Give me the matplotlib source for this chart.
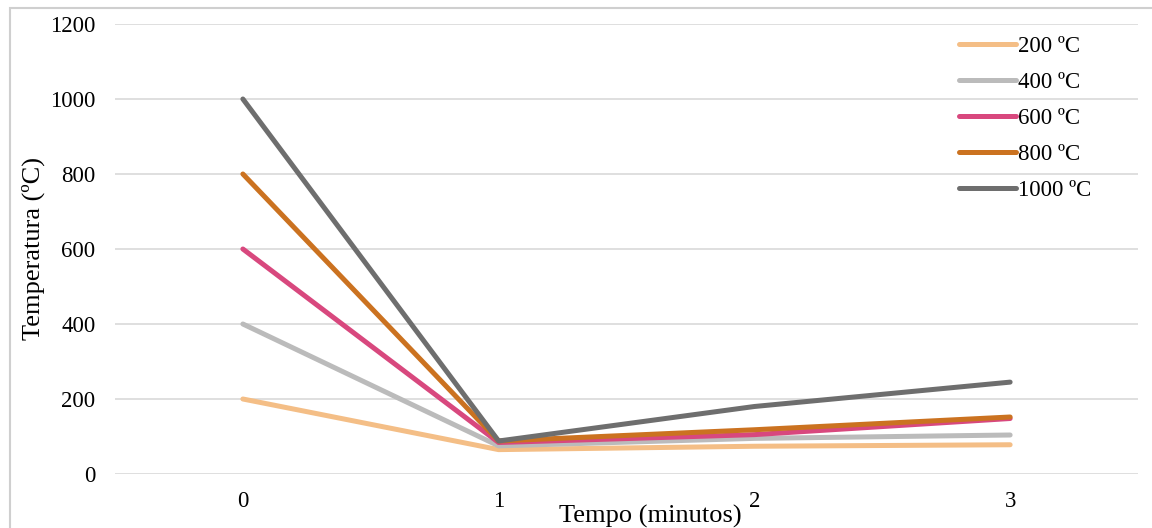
import matplotlib.pyplot as plt
from matplotlib.patches import Rectangle

plt.rcParams['font.family'] = ['Liberation Serif', 'DejaVu Serif']

tempo = [0, 1, 2, 3]
labels = ['200 ºC', '400 ºC', '600 ºC', '800 ºC', '1000 ºC']
t200 = [200, 65, 74, 78]
t400 = [400, 75, 95, 104]
t600 = [600, 84, 105, 148]
t800 = [800, 88, 118, 152]
t1000 = [1000, 88, 180, 245]
colors = ['#F4BE86', '#BBBBBB', '#D8487E', '#CB7220', '#6E6E6E']

fig = plt.figure(figsize=(11.52, 5.28), dpi=100)
ax = fig.add_axes([115 / 1152, 1 - 474 / 528, (1138 - 115) / 1152, 450 / 528])

for serie, lab, c in zip([t200, t400, t600, t800, t1000], labels, colors):
    ax.plot(tempo, serie, color=c, linewidth=3.6, label=lab, solid_capstyle='round')

ax.set_xlim(-0.5, 3.5)
ax.set_ylim(0, 1200)
ax.set_yticks(range(0, 1201, 200))
ax.set_xticks(tempo)
ax.grid(axis='y', color='#D9D9D9', linewidth=1.2)
ax.set_axisbelow(True)
for s in ax.spines.values():
    s.set_visible(False)
ax.tick_params(length=0, labelsize=16.5, pad=14)
ax.tick_params(axis='x', pad=12)

fig.text(650 / 1152, 1 - 516 / 528, 'Tempo (minutos)', ha='center', va='center', fontsize=19)
fig.text(33 / 1152, 1 - 248 / 528, 'Temperatura (ºC)', ha='center', va='center',
         rotation=90, fontsize=19)

ax.legend(loc='upper left', bbox_to_anchor=(830 / 1023, 1.005), frameon=False, fontsize=16.5,
          handlelength=2.5, handletextpad=0.1, labelspacing=0.66, borderaxespad=0.2)

# moldura da figura
fig.patches.append(Rectangle((10 / 1152, -0.01), 1.02, 1 - 8 / 528 + 0.01,
                             transform=fig.transFigure, fill=False,
                             edgecolor='#CFCFCF', linewidth=1.5))

fig.savefig('out.png', dpi=100)
